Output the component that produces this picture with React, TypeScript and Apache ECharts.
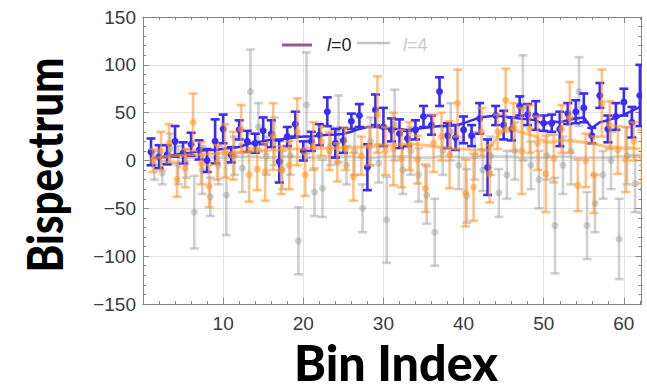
import React, { useEffect, useRef } from "react";
import * as echarts from "echarts";

// ---------- data ----------
const bins: number[] = Array.from({ length: 62 }, (_, i) => i + 1);

const blueVal = [9, 4, 6, 20, 8, 17, 11, 0, 20, 33, 6, 32, 20, 18, 31, 28, -1, 25, 38, 10, 20, 27, 51, 18, 21, 41, 47, -7, 53, 35, 32, 28, 23, 32, 46, 37, 72, 26, 24, 32, 26, 44, -7, 47, 37, 33, 57, 48, 47, 39, 39, 33, 49, 51, 55, 26, 68, 33, 46, 61, 40, 68];
const blueErr = [14, 12, 10, 16, 11, 12, 10, 12, 23, 15, 8, 10, 11, 10, 14, 14, 22, 10, 13, 10, 10, 11, 15, 15, 13, 8, 12, 24, 16, 20, 12, 15, 8, 10, 11, 10, 15, 13, 13, 14, 11, 16, 29, 10, 15, 12, 10, 11, 15, 8, 9, 18, 11, 12, 15, 8, 13, 14, 14, 14, 16, 32];

const orangeVal = [0, 10, 18, -20, -8, 40, -3, -27, -2, 10, 5, 33, -15, -9, -12, 25, -10, -5, 30, -15, 15, 20, 10, -2, 12, -17, 5, 15, 48, 10, 12, 2, 15, 1, -29, 18, 25, 6, 60, -34, -28, 30, -14, 30, 63, 35, 10, 33, 18, -14, 2, 33, 45, -26, 0, -15, 60, 37, 11, 1, 20, 4];
const orangeErr = [12, 20, 20, 18, 20, 30, 22, 22, 18, 28, 25, 25, 28, 22, 30, 35, 25, 25, 35, 22, 25, 15, 20, 20, 22, 25, 20, 20, 40, 25, 38, 30, 25, 25, 25, 30, 25, 35, 35, 35, 35, 25, 30, 18, 33, 25, 45, 25, 28, 40, 25, 25, 37, 27, 28, 40, 35, 25, 25, 34, 20, 28];

const grayVal = [-5, -13, 12, -5, -3, -54, -10, -38, -5, -36, 5, -8, 72, 35, 5, 20, -10, 5, -84, 58, -33, -29, 15, 33, -5, 10, -50, 20, -3, -62, 37, -10, 10, -15, -36, -75, 10, 30, -5, -37, 5, -10, 5, -34, -15, 10, 55, -5, -20, 5, -68, -5, 10, 72, -68, -45, -15, 0, -82, 5, -24, -30];
const grayErr = [15, 12, 16, 20, 15, 38, 25, 20, 20, 42, 20, 25, 44, 25, 20, 25, 20, 20, 35, 55, 25, 30, 20, 35, 20, 25, 25, 25, 20, 45, 37, 25, 25, 28, 30, 35, 25, 30, 25, 28, 25, 22, 20, 25, 25, 30, 55, 25, 30, 25, 50, 30, 35, 36, 35, 30, 25, 30, 42, 30, 30, 25];

const blueFit = [2, 3, 4, 6, 7, 8, 10, 11, 11, 12, 13, 14, 17, 19, 20, 22, 22, 23, 24, 25, 25, 26, 27, 27, 28, 30, 33, 35, 35, 34, 33, 33, 32, 33, 34, 35, 36, 36, 37, 39, 42, 45, 46, 47, 46, 45, 44, 43, 42, 38, 41, 40, 42, 44, 45, 34, 40, 42, 45, 48, 52, 56];
const orangeFit = [2, 3, 4, 5, 5, 6, 6, 7, 7, 8, 8, 9, 9, 10, 10, 11, 11, 12, 12, 12, 13, 13, 13, 13, 14, 14, 14, 15, 15, 16, 16, 17, 17, 17, 16, 15, 14, 13, 12, 12, 11, 11, 10, 22, 33, 33, 30, 28, 25, 20, 19, 21, 21, 20, 19, 18, 16, 14, 14, 13, 13, 12];
const grayFit = [3, 3, 4, 4, 3, 3, 4, 4, 3, 3, 3, 4, 4, 4, 3, 3, 4, 4, 4, 3, 3, 3, 4, 4, 4, 4, 3, 3, 3, 4, 4, 4, 4, 3, 3, 3, 4, 4, 4, 3, 3, 3, 4, 4, 4, 4, 3, 3, 3, 3, 4, 4, 4, 3, 3, 3, 3, 3, 4, 4, 4, 4];

const xMajorTicks = [10, 20, 30, 40, 50, 60];
const xMinorTicks = [2, 4, 6, 8, 12, 14, 16, 18, 22, 24, 26, 28, 32, 34, 36, 38, 42, 44, 46, 48, 52, 54, 56, 58, 62];
const legendLabels = ["0", "4"];

// ---------- styles ----------
const BLUE = "#3a2cf0";
const ORANGE = "rgba(255,150,40,0.58)";
const GRAY = "rgba(150,150,150,0.45)";
const FRAME = "#858585";
const ORANGE_DX = 0.25;
const GRAY_DX = 0.4;

function errRender(color: string) {
  return (params: any, api: any) => {
    const x = api.value(0);
    const y = api.value(1);
    const e = api.value(2);
    const c = api.coord([x, y]);
    const t = api.coord([x, y + e]);
    const b = api.coord([x, y - e]);
    const hw = 4.5;
    const lw = 2.6;
    return {
      type: "group",
      children: [
        { type: "line", shape: { x1: c[0], y1: t[1], x2: c[0], y2: b[1] }, style: { stroke: color, lineWidth: lw } },
        { type: "line", shape: { x1: c[0] - hw, y1: t[1], x2: c[0] + hw, y2: t[1] }, style: { stroke: color, lineWidth: lw } },
        { type: "line", shape: { x1: c[0] - hw, y1: b[1], x2: c[0] + hw, y2: b[1] }, style: { stroke: color, lineWidth: lw } },
        { type: "circle", shape: { cx: c[0], cy: c[1], r: 3.5 }, style: { fill: color } },
      ],
    };
  };
}

function measure(text: string, font: string): number {
  const ctx = document.createElement("canvas").getContext("2d");
  if (!ctx) return 0;
  ctx.font = font;
  return ctx.measureText(text).width;
}

const TITLE_FONT_SIZE = 49;
const TITLE_FAMILY = "Lato";

function xAxisBase(extra: any) {
  return {
    type: "value",
    min: 0,
    max: 62.2,
    axisLine: { show: true, onZero: false, lineStyle: { color: FRAME, width: 1 } },
    splitLine: { show: false },
    axisLabel: { show: false },
    ...extra,
  };
}

export default function App() {
  const ref = useRef<HTMLDivElement>(null);
  useEffect(() => {
    if (!ref.current) return;
    const chart = echarts.init(ref.current, undefined, { renderer: "svg" });

    const titleFont = `900 ${TITLE_FONT_SIZE}px ${TITLE_FAMILY}`;
    const wBin = measure("Bin Index", titleFont) || 220;
    const wBis = measure("Bispectrum", titleFont) || 250;

    const blueData = bins.map((b, i) => [b, blueVal[i], blueErr[i]]);
    const orangeData = bins.map((b, i) => [b + ORANGE_DX, orangeVal[i], orangeErr[i]]);
    const grayData = bins.map((b, i) => [b + GRAY_DX, grayVal[i], grayErr[i]]);

    const option: any = {
      animation: false,
      backgroundColor: "#ffffff",
      grid: { left: 143, right: 5.5, top: 17, bottom: 88, containLabel: false },
      xAxis: [
        xAxisBase({
          position: "bottom",
          axisTick: { show: true, inside: true, length: 6, customValues: xMajorTicks, lineStyle: { color: FRAME } },
          splitLine: { show: true, lineStyle: { color: "#e2e2e2", width: 1 } },
          axisLabel: {
            show: true,
            customValues: xMajorTicks,
            fontSize: 19,
            fontFamily: "Liberation Sans",
            color: "#3a3a3a",
            margin: 10,
          },
          interval: 10,
        }),
        xAxisBase({
          position: "bottom",
          axisTick: { show: true, inside: true, length: 3, customValues: xMinorTicks, lineStyle: { color: FRAME } },
        }),
        xAxisBase({
          position: "top",
          axisTick: { show: true, inside: true, length: 6, customValues: xMajorTicks, lineStyle: { color: FRAME } },
        }),
        xAxisBase({
          position: "top",
          axisTick: { show: true, inside: true, length: 3, customValues: xMinorTicks, lineStyle: { color: FRAME } },
        }),
      ],
      yAxis: [
        {
          type: "value",
          min: -150,
          max: 150,
          interval: 50,
          position: "left",
          axisLine: { show: true, onZero: false, lineStyle: { color: FRAME, width: 1 } },
          axisTick: { show: true, inside: true, length: 6, lineStyle: { color: FRAME } },
          minorTick: { show: true, splitNumber: 5, length: 3, lineStyle: { color: FRAME } },
          splitLine: { show: true, lineStyle: { color: "#e2e2e2", width: 1 } },
          axisLabel: {
            fontSize: 19,
            fontFamily: "Liberation Sans",
            color: "#3a3a3a",
            margin: 7,
            formatter: (v: number) => (v < 0 ? "\u2212" + Math.abs(v) : String(v)),
          },
        },
        {
          type: "value",
          min: -150,
          max: 150,
          interval: 50,
          position: "right",
          axisLine: { show: true, onZero: false, lineStyle: { color: FRAME, width: 1 } },
          axisTick: { show: true, inside: true, length: 6, lineStyle: { color: FRAME } },
          minorTick: { show: true, splitNumber: 5, length: 3, lineStyle: { color: FRAME } },
          splitLine: { show: false },
          axisLabel: { show: false },
        },
      ],
      series: [
        {
          type: "line",
          z: 2,
          data: bins.map((b, i) => [b, grayFit[i]]),
          showSymbol: false,
          lineStyle: { color: GRAY, width: 3 },
        },
        {
          type: "custom",
          z: 3,
          renderItem: errRender(GRAY),
          data: grayData,
          clip: true,
        },
        {
          type: "custom",
          z: 4,
          renderItem: errRender(BLUE),
          data: blueData,
          clip: true,
        },
        {
          type: "line",
          z: 5,
          data: bins.map((b, i) => [b, blueFit[i]]),
          showSymbol: false,
          lineStyle: { color: BLUE, width: 2.5 },
        },
        {
          type: "custom",
          z: 6,
          renderItem: errRender(ORANGE),
          data: orangeData,
          clip: true,
        },
        {
          type: "line",
          z: 7,
          data: bins.map((b, i) => [b, orangeFit[i]]),
          showSymbol: false,
          lineStyle: { color: ORANGE, width: 3.2 },
        },
      ],
      graphic: [
        {
          type: "line",
          z: 100,
          shape: { x1: 282, y1: 45, x2: 312, y2: 45 },
          style: { stroke: "#955a8f", lineWidth: 3 },
        },
        {
          type: "text",
          z: 100,
          x: 327,
          y: 45,
          style: {
            text: "{i|l}{n|=" + legendLabels[0] + "}",
            verticalAlign: "middle",
            rich: {
              i: { fontStyle: "italic", fontSize: 18, fontFamily: "Liberation Sans", fill: "#222", color: "#222" },
              n: { fontSize: 18, fontFamily: "Liberation Sans", fill: "#222", color: "#222" },
            },
          },
        },
        {
          type: "line",
          z: 100,
          shape: { x1: 357, y1: 43, x2: 390, y2: 43 },
          style: { stroke: "rgba(170,170,170,0.7)", lineWidth: 2.5 },
        },
        {
          type: "text",
          z: 100,
          x: 403,
          y: 45,
          style: {
            text: "{i|l}{n|=" + legendLabels[1] + "}",
            verticalAlign: "middle",
            rich: {
              i: { fontStyle: "italic", fontSize: 18, fontFamily: "Liberation Sans", fill: "#c9c9c9", color: "#c9c9c9" },
              n: { fontSize: 18, fontFamily: "Liberation Sans", fill: "#c9c9c9", color: "#c9c9c9" },
            },
          },
        },
        {
          type: "text",
          z: 100,
          x: 396,
          y: 362,
          scaleX: 204 / wBin,
          style: {
            text: "Bin Index",
            fontSize: TITLE_FONT_SIZE,
            fontWeight: 900,
            fontFamily: TITLE_FAMILY,
            fill: "#000",
            align: "center",
            verticalAlign: "middle",
          },
        },
        {
          type: "text",
          z: 100,
          x: 44,
          y: 165,
          rotation: Math.PI / 2,
          scaleX: 215 / wBis,
          style: {
            text: "Bispectrum",
            fontSize: TITLE_FONT_SIZE,
            fontWeight: 900,
            fontFamily: TITLE_FAMILY,
            fill: "#000",
            align: "center",
            verticalAlign: "middle",
          },
        },
      ],
    };
    chart.setOption(option);
    return () => chart.dispose();
  }, []);
  return <div ref={ref} style={{ width: 647, height: 392, position: "absolute", left: 0, top: 0 }} />;
}
